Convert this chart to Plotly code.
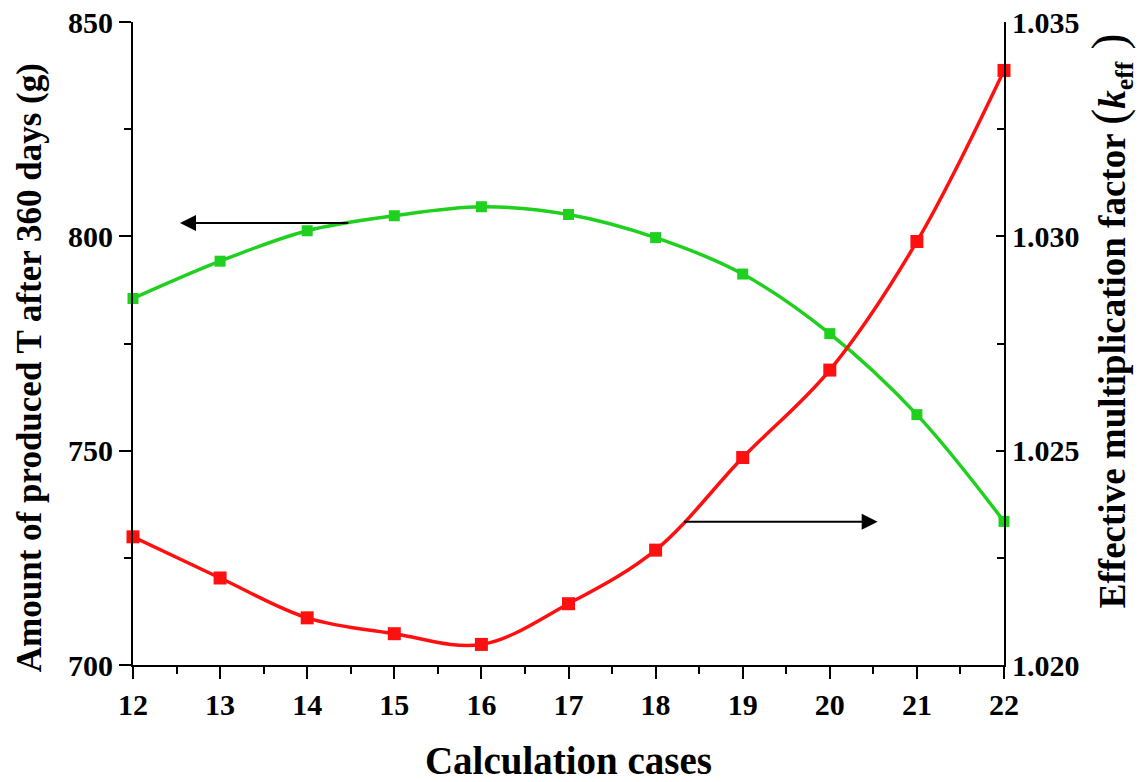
import plotly.graph_objects as go

cases = [12, 13, 14, 15, 16, 17, 18, 19, 20, 21, 22]
tritium_g = [785.5, 794.2, 801.3, 804.8, 806.9, 805.1, 799.7, 791.2, 777.3, 758.4, 733.5]
keff = [1.02299, 1.02203, 1.02110, 1.02073, 1.02048, 1.02143, 1.02268, 1.02484, 1.02688, 1.02988, 1.03387]

FONT = "Liberation Serif"

fig = go.Figure()
fig.add_trace(go.Scatter(
    x=cases, y=tritium_g, mode="lines+markers", line_shape="spline",
    line=dict(color="#1fd01f", width=3.5),
    marker=dict(symbol="square", size=11, color="#1fd01f"),
    yaxis="y", showlegend=False, cliponaxis=False))
fig.add_trace(go.Scatter(
    x=cases, y=keff, mode="lines+markers", line_shape="spline",
    line=dict(color="#ff1010", width=3.5),
    marker=dict(symbol="square", size=13, color="#ff1010"),
    yaxis="y2", showlegend=False, cliponaxis=False))

tickfont = dict(family=FONT, size=30, color="black", weight="bold")

fig.update_layout(
    width=1142, height=782,
    margin=dict(l=133, r=138, t=22, b=117),
    plot_bgcolor="white", paper_bgcolor="white",
    font=dict(family=FONT, color="black"),
    xaxis=dict(
        range=[12, 22], dtick=1, tick0=12, automargin=False,
        showline=True, linecolor="black", linewidth=2, mirror=False,
        ticks="outside", ticklen=12, tickwidth=2, tickcolor="black",
        minor=dict(dtick=0.5, ticks="outside", ticklen=7, tickwidth=2, tickcolor="black"),
        showgrid=False, zeroline=False,
        tickfont=tickfont,
        title=dict(text="Calculation cases",
                   font=dict(family=FONT, size=39, color="black", weight="bold"), standoff=28),
    ),
    yaxis=dict(
        range=[700, 850], dtick=50, automargin=False,
        showline=True, linecolor="black", linewidth=2,
        ticks="outside", ticklen=12, tickwidth=2, tickcolor="black",
        minor=dict(dtick=25, ticks="outside", ticklen=7, tickwidth=2, tickcolor="black"),
        showgrid=False, zeroline=False,
        tickfont=tickfont,
    ),
    yaxis2=dict(
        range=[1.020, 1.035], dtick=0.005, tickformat=".3f", automargin=False,
        overlaying="y", side="right",
        showline=True, linecolor="black", linewidth=2,
        ticks="inside", ticklen=8, tickwidth=2, tickcolor="black",
        minor=dict(dtick=0.0025, ticks="inside", ticklen=7, tickwidth=2, tickcolor="black"),
        showgrid=False, zeroline=False,
        tickfont=tickfont,
    ),
)

# y-axis titles as rotated annotations
fig.add_annotation(text="Amount of produced T after 360 days (g)", textangle=-90,
                   xref="paper", yref="paper", x=-0.118, y=0.462, xanchor="center", yanchor="middle",
                   showarrow=False, font=dict(family=FONT, size=35, color="black", weight="bold"))
fig.add_annotation(text="Effective multiplication factor "
                        "<span style='font-size:48px;font-weight:normal'>(</span>"
                        "<i>k</i><sub>eff</sub>"
                        "<span style='font-size:48px;font-weight:normal'> )</span>",
                   textangle=-90,
                   xref="paper", yref="paper", x=1.123, y=0.535, xanchor="center", yanchor="middle",
                   showarrow=False, font=dict(family=FONT, size=37, color="black", weight="bold"))

# arrows indicating which axis each curve uses
fig.add_annotation(x=12.54, y=803.1, ax=14.49, ay=803.1, xref="x", yref="y", axref="x", ayref="y",
                   text="", showarrow=True, arrowhead=2, arrowsize=1.6, arrowwidth=2, arrowcolor="black")
fig.add_annotation(x=20.55, y=733.4, ax=18.31, ay=733.4, xref="x", yref="y", axref="x", ayref="y",
                   text="", showarrow=True, arrowhead=2, arrowsize=1.6, arrowwidth=2, arrowcolor="black")

fig.write_html("out.html", config={"displayModeBar": False},
               post_script="document.body.style.margin='0';")
